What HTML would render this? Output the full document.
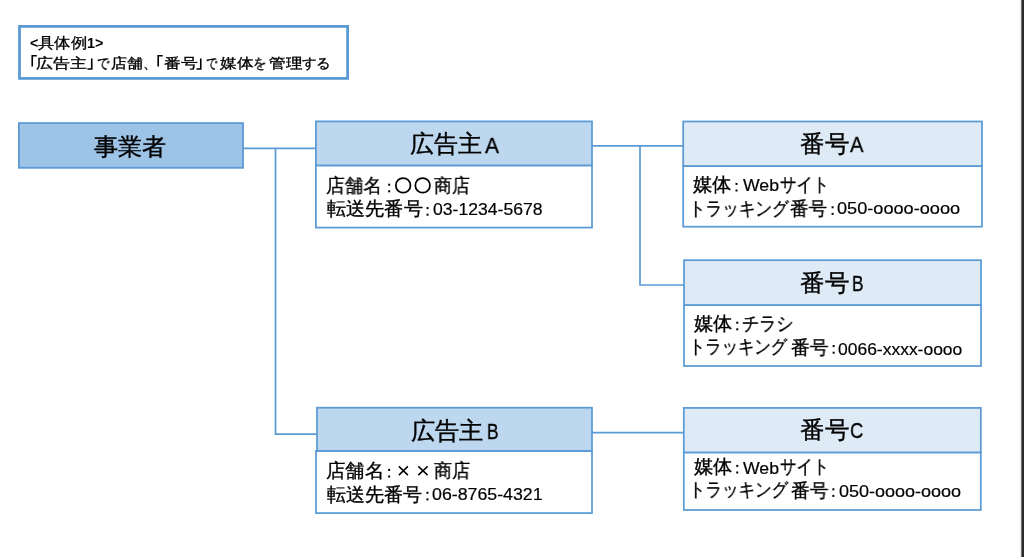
<!DOCTYPE html><html><head><meta charset="utf-8"><style>
html,body{margin:0;padding:0;width:1024px;height:557px;overflow:hidden;background:#fff;font-family:"Liberation Sans",sans-serif;color:#000}.t{position:absolute;white-space:nowrap;line-height:1;transform-origin:0 0;will-change:transform}.s{-webkit-text-stroke:0.35px #000}.sl{-webkit-text-stroke:0.2px #000}.s2{-webkit-text-stroke:0.3px #000}
#bar{position:absolute;left:1020px;top:0;width:4px;height:557px;background:linear-gradient(to right,#ececec 0,#ececec 1px,#727272 1px,#727272 2px,#2e2e2e 2px,#2a2a2a 4px)}
</style></head><body>
<svg width="1024" height="557" style="position:absolute;left:0;top:0">
<rect x="19.5" y="26.4" width="328.10" height="52.00" fill="#FFFFFF" stroke="#5B9BD5" stroke-width="2.8"/>
<path d="M243,148.3 L316,148.3" fill="none" stroke="#5B9BD5" stroke-width="1.7"/>
<path d="M275.5,148.3 L275.5,434.2 L317,434.2" fill="none" stroke="#5B9BD5" stroke-width="1.7"/>
<path d="M592,145.9 L683.5,145.9" fill="none" stroke="#5B9BD5" stroke-width="1.7"/>
<path d="M640,145.9 L640,285 L684,285" fill="none" stroke="#5B9BD5" stroke-width="1.7"/>
<path d="M592,432.7 L684,432.7" fill="none" stroke="#5B9BD5" stroke-width="1.7"/>
<rect x="18.9" y="123.1" width="224.10" height="44.70" fill="#9DC3E6" stroke="#5B9BD5" stroke-width="1.8"/>
<rect x="315.9" y="165.4" width="276.10" height="62.20" fill="#FFFFFF" stroke="#5B9BD5" stroke-width="1.75"/>
<rect x="315.9" y="121.4" width="276.10" height="44.00" fill="#BDD7EE" stroke="#5B9BD5" stroke-width="1.75"/>
<rect x="683.2" y="166" width="298.80" height="60.70" fill="#FFFFFF" stroke="#5B9BD5" stroke-width="1.75"/>
<rect x="683.2" y="121.5" width="298.80" height="44.50" fill="#DEEBF7" stroke="#5B9BD5" stroke-width="1.75"/>
<rect x="684" y="305" width="297.00" height="61.00" fill="#FFFFFF" stroke="#5B9BD5" stroke-width="1.75"/>
<rect x="684" y="260.2" width="297.00" height="44.80" fill="#DEEBF7" stroke="#5B9BD5" stroke-width="1.75"/>
<rect x="316" y="450.9" width="276.00" height="62.20" fill="#FFFFFF" stroke="#5B9BD5" stroke-width="1.75"/>
<rect x="317" y="407.7" width="275.00" height="43.20" fill="#BDD7EE" stroke="#5B9BD5" stroke-width="1.75"/>
<rect x="683.8" y="452.4" width="297.00" height="57.60" fill="#FFFFFF" stroke="#5B9BD5" stroke-width="1.75"/>
<rect x="683.8" y="407.9" width="297.00" height="44.50" fill="#DEEBF7" stroke="#5B9BD5" stroke-width="1.75"/>
<circle cx="403.15" cy="185.4" r="7.3" fill="none" stroke="#000" stroke-width="1.75"/>
<circle cx="422.65" cy="185.4" r="7.3" fill="none" stroke="#000" stroke-width="1.75"/>
<path d="M398.9,466.4 L407.9,475.1 M407.9,466.4 L398.9,475.1" stroke="#000" stroke-width="1.5" fill="none"/>
<path d="M418.3,466.4 L427.6,475.1 M427.6,466.4 L418.3,475.1" stroke="#000" stroke-width="1.5" fill="none"/>
<rect x="388.15" y="183.70" width="2" height="2" fill="#000"/>
<rect x="388.15" y="190.30" width="2" height="2" fill="#000"/>
<rect x="426.55" y="207.10" width="2" height="2" fill="#000"/>
<rect x="426.55" y="213.70" width="2" height="2" fill="#000"/>
<rect x="388.15" y="468.90" width="2" height="2" fill="#000"/>
<rect x="388.15" y="475.50" width="2" height="2" fill="#000"/>
<rect x="426.43" y="491.80" width="2" height="2" fill="#000"/>
<rect x="426.43" y="498.40" width="2" height="2" fill="#000"/>
<rect x="735.50" y="182.90" width="2" height="2" fill="#000"/>
<rect x="735.50" y="189.50" width="2" height="2" fill="#000"/>
<rect x="831.58" y="206.30" width="2" height="2" fill="#000"/>
<rect x="831.58" y="212.90" width="2" height="2" fill="#000"/>
<rect x="736.25" y="321.70" width="2" height="2" fill="#000"/>
<rect x="736.25" y="328.30" width="2" height="2" fill="#000"/>
<rect x="832.65" y="345.10" width="2" height="2" fill="#000"/>
<rect x="832.65" y="351.70" width="2" height="2" fill="#000"/>
<rect x="736.25" y="464.90" width="2" height="2" fill="#000"/>
<rect x="736.25" y="471.50" width="2" height="2" fill="#000"/>
<rect x="832.35" y="488.30" width="2" height="2" fill="#000"/>
<rect x="832.35" y="494.90" width="2" height="2" fill="#000"/>
<path d="M36.8,55.7 L32.25,55.7 L32.25,66.6" stroke="#000" stroke-width="1.6" fill="none"/>
<path d="M91.75,58.4 L91.75,69.0 L87.4,69.0" stroke="#000" stroke-width="1.6" fill="none"/>
<path d="M162.7,55.7 L158.2,55.7 L158.2,66.6" stroke="#000" stroke-width="1.6" fill="none"/>
<path d="M200.75,58.4 L200.75,69.0 L196.5,69.0" stroke="#000" stroke-width="1.6" fill="none"/>
</svg>
<div class="t" style="left:29.60px;top:36.25px;font-size:14.366px;font-weight:700;transform:scaleX(1.0000)">&lt;</div>
<div class="t s2" style="left:38.20px;top:34.75px;font-size:15.370px;font-weight:400;transform:scaleX(1.0872)">具体例</div>
<div class="t" style="left:87.00px;top:36.25px;font-size:14.366px;font-weight:700;transform:scaleX(1.0000)">1</div>
<div class="t" style="left:95.20px;top:36.25px;font-size:14.366px;font-weight:700;transform:scaleX(1.0000)">&gt;</div>
<div class="t s" style="left:35.80px;top:55.50px;font-size:14.230px;font-weight:400;transform:scaleX(1.2057)">広告主</div>
<div class="t s" style="left:96.60px;top:55.50px;font-size:14.230px;font-weight:400;transform:scaleX(0.8777)">で</div>
<div class="t s" style="left:111.00px;top:55.50px;font-size:14.230px;font-weight:400;transform:scaleX(1.1394)">店舗</div>
<div class="t s" style="left:143.20px;top:55.50px;font-size:14.230px;font-weight:400;transform:scaleX(1.0000)">、</div>
<div class="t s" style="left:163.80px;top:55.50px;font-size:14.230px;font-weight:400;transform:scaleX(1.2001)">番号</div>
<div class="t s" style="left:206.40px;top:55.50px;font-size:14.230px;font-weight:400;transform:scaleX(0.8008)">で</div>
<div class="t s" style="left:220.20px;top:55.50px;font-size:14.230px;font-weight:400;transform:scaleX(1.1863)">媒体</div>
<div class="t s" style="left:253.40px;top:55.50px;font-size:14.230px;font-weight:400;transform:scaleX(0.9543)">を</div>
<div class="t s" style="left:269.20px;top:55.50px;font-size:14.230px;font-weight:400;transform:scaleX(1.1826)">管理</div>
<div class="t s" style="left:302.00px;top:55.50px;font-size:14.230px;font-weight:400;transform:scaleX(1.0351)">する</div>
<div class="t s" style="left:94.00px;top:135.75px;font-size:23.500px;font-weight:400;transform:scaleX(1.0072)">事業者</div>
<div class="t s" style="left:409.80px;top:132.75px;font-size:23.500px;font-weight:400;transform:scaleX(1.0005)">広告主</div>
<div class="t s" style="left:484.60px;top:134.50px;font-size:22.400px;font-weight:400;transform:scaleX(0.9354)">A</div>
<div class="t s" style="left:800.00px;top:133.00px;font-size:23.500px;font-weight:400;transform:scaleX(1.0219)">番号</div>
<div class="t s" style="left:850.40px;top:134.25px;font-size:22.400px;font-weight:400;transform:scaleX(0.9005)">A</div>
<div class="t s" style="left:800.40px;top:272.00px;font-size:23.500px;font-weight:400;transform:scaleX(1.0227)">番号</div>
<div class="t s" style="left:851.80px;top:272.75px;font-size:22.400px;font-weight:400;transform:scaleX(0.7721)">B</div>
<div class="t s" style="left:411.40px;top:419.50px;font-size:23.500px;font-weight:400;transform:scaleX(1.0074)">広告主</div>
<div class="t s" style="left:486.60px;top:420.50px;font-size:22.400px;font-weight:400;transform:scaleX(0.7735)">B</div>
<div class="t s" style="left:800.40px;top:419.00px;font-size:23.500px;font-weight:400;transform:scaleX(1.0227)">番号</div>
<div class="t s" style="left:850.00px;top:420.00px;font-size:22.400px;font-weight:400;transform:scaleX(0.8220)">C</div>
<div class="t s" style="left:326.00px;top:177.00px;font-size:18.500px;font-weight:400;transform:scaleX(0.9820)">店舗名</div>
<div class="t s" style="left:434.00px;top:177.00px;font-size:18.500px;font-weight:400;transform:scaleX(0.9434)">商店</div>
<div class="t s" style="left:326.50px;top:200.00px;font-size:18.500px;font-weight:400;transform:scaleX(1.0079)">転送先番号</div>
<div class="t sl" style="left:433.00px;top:201.25px;font-size:17.200px;font-weight:400;transform:scaleX(1.0234)">03-1234-5678</div>
<div class="t s" style="left:326.00px;top:461.88px;font-size:18.500px;font-weight:400;transform:scaleX(1.0194)">店舗名</div>
<div class="t s" style="left:434.00px;top:461.88px;font-size:18.500px;font-weight:400;transform:scaleX(0.9503)">商店</div>
<div class="t s" style="left:326.60px;top:485.75px;font-size:18.500px;font-weight:400;transform:scaleX(1.0000)">転送先番号</div>
<div class="t sl" style="left:432.00px;top:486.00px;font-size:17.200px;font-weight:400;transform:scaleX(1.0331)">06-8765-4321</div>
<div class="t s" style="left:693.40px;top:176.00px;font-size:18.500px;font-weight:400;transform:scaleX(1.0139)">媒体</div>
<div class="t sl" style="left:743.20px;top:177.25px;font-size:17.200px;font-weight:400;transform:scaleX(1.0291)">Web</div>
<div class="t s" style="left:780.20px;top:176.00px;font-size:18.500px;font-weight:400;transform:scaleX(0.8626)">サイト</div>
<div class="t s" style="left:689.00px;top:199.50px;font-size:18.800px;font-weight:400;transform:scaleX(0.8739)">トラッキング</div>
<div class="t s" style="left:790.00px;top:200.00px;font-size:18.500px;font-weight:400;transform:scaleX(0.9741)">番号</div>
<div class="t sl" style="left:837.20px;top:200.25px;font-size:17.200px;font-weight:400;transform:scaleX(1.0561)">050-oooo-oooo</div>
<div class="t s" style="left:694.20px;top:315.00px;font-size:18.500px;font-weight:400;transform:scaleX(1.0139)">媒体</div>
<div class="t s" style="left:742.40px;top:315.00px;font-size:18.500px;font-weight:400;transform:scaleX(0.9019)">チラシ</div>
<div class="t s" style="left:689.20px;top:338.25px;font-size:18.800px;font-weight:400;transform:scaleX(0.8599)">トラッキング</div>
<div class="t s" style="left:791.20px;top:339.00px;font-size:18.500px;font-weight:400;transform:scaleX(0.9873)">番号</div>
<div class="t sl" style="left:838.40px;top:340.75px;font-size:17.200px;font-weight:400;transform:scaleX(1.0164)">0066-xxxx-oooo</div>
<div class="t s" style="left:694.20px;top:458.00px;font-size:18.500px;font-weight:400;transform:scaleX(1.0139)">媒体</div>
<div class="t sl" style="left:743.20px;top:459.75px;font-size:17.200px;font-weight:400;transform:scaleX(1.0291)">Web</div>
<div class="t s" style="left:780.20px;top:458.00px;font-size:18.500px;font-weight:400;transform:scaleX(0.8626)">サイト</div>
<div class="t s" style="left:689.40px;top:481.12px;font-size:18.800px;font-weight:400;transform:scaleX(0.8692)">トラッキング</div>
<div class="t s" style="left:791.20px;top:482.25px;font-size:18.500px;font-weight:400;transform:scaleX(0.9873)">番号</div>
<div class="t sl" style="left:838.80px;top:483.25px;font-size:17.200px;font-weight:400;transform:scaleX(1.0474)">050-oooo-oooo</div>
<div id="bar"></div></body></html>
